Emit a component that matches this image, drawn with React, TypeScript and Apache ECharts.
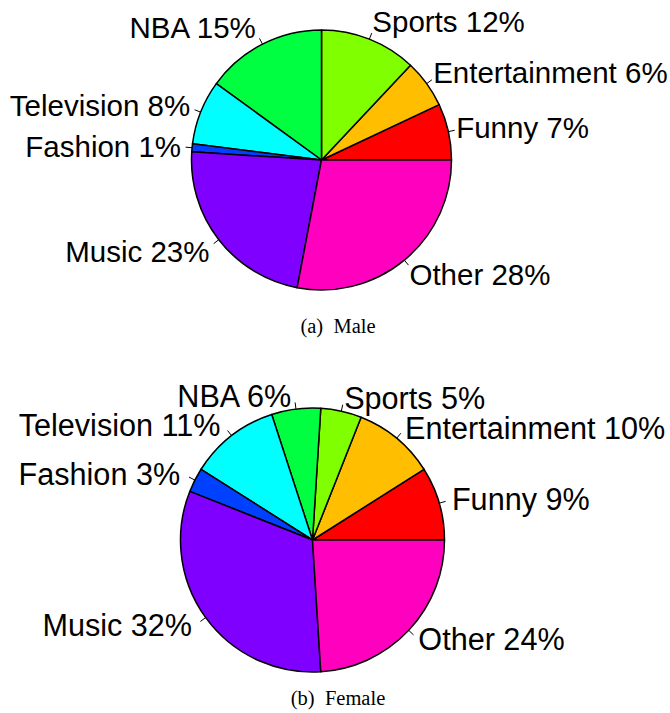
import React, { useEffect, useRef } from 'react';
import * as echarts from 'echarts';

const categories = ['Funny', 'Entertainment', 'Sports', 'NBA', 'Television', 'Fashion', 'Music', 'Other'];
const maleValues = [7, 6, 12, 15, 8, 1, 23, 28];
const femaleValues = [9, 10, 5, 6, 11, 3, 32, 24];
const sliceColors = ['#FF0000', '#FFBF00', '#80FF00', '#00FF40', '#00FFFF', '#0040FF', '#8000FF', '#FF00BF'];
const captions = ['(a)\u2002Male', '(b)\u2002Female'];

type PieGeom = { cx: number; cy: number; r: number; lx: number; ly: number; fontSize: number };

const maleGeom: PieGeom = { cx: 321.5, cy: 160, r: 130, lx: 138, ly: 148.5, fontSize: 29.5 };
const femaleGeom: PieGeom = { cx: 312.5, cy: 540, r: 132, lx: 145.2, ly: 145.2, fontSize: 30.6 };

function buildSeries(name: string, values: number[], g: PieGeom) {
  const total = values.reduce((a, b) => a + b, 0);
  let acc = 0;
  const tick = 0.05 * g.r;
  const shifts: { dx: number; dy: number }[] = [];
  const data = values.map((v, i) => {
    const mid = ((acc + v / 2) / total) * 2 * Math.PI;
    acc += v;
    const nx = Math.cos(mid);
    const ny = Math.sin(mid);
    const ex = g.cx + (g.r + tick) * nx;
    const ey = g.cy - (g.r + tick) * ny;
    const tx = g.cx + g.lx * nx + (nx < 0 ? -3 : 0);
    const ty = g.cy - g.ly * ny;
    shifts.push({ dx: tx - ex, dy: ty - ey });
    return {
      name: categories[i],
      value: v,
      itemStyle: { color: sliceColors[i] },
    };
  });
  return {
    type: 'pie',
    name,
    center: [g.cx, g.cy],
    radius: g.r,
    startAngle: 0,
    clockwise: false,
    avoidLabelOverlap: false,
    silent: true,
    data,
    itemStyle: { borderColor: '#000', borderWidth: 1.5 },
    label: {
      show: true,
      position: 'outside',
      formatter: (p: any) => `${p.name} ${p.value}%`,
      color: '#000',
      fontFamily: '"Liberation Sans", Arial, sans-serif',
      fontSize: g.fontSize,
      distanceToLabelLine: 0,
    },
    labelLine: {
      show: true,
      length: tick,
      length2: 0,
      smooth: false,
      lineStyle: { color: '#000', width: 1 },
    },
    labelLayout: (p: any) => ({
      dx: shifts[p.dataIndex].dx,
      dy: shifts[p.dataIndex].dy,
      hideOverlap: false,
    }),
    emphasis: { disabled: true },
  };
}

export default function App() {
  const ref = useRef<HTMLDivElement>(null);
  useEffect(() => {
    document.body.style.margin = '0';
    if (!ref.current) return;
    const chart = echarts.init(ref.current, undefined, { renderer: 'svg' });
    const captionFont = '20.5px "Liberation Serif", "Times New Roman", serif';
    chart.setOption({
      animation: false,
      backgroundColor: '#fff',
      series: [buildSeries('Male', maleValues, maleGeom), buildSeries('Female', femaleValues, femaleGeom)],
      graphic: [
        {
          type: 'text',
          x: 338,
          y: 326,
          style: { text: captions[0], fill: '#000', font: captionFont, textAlign: 'center', textVerticalAlign: 'middle' },
        },
        {
          type: 'text',
          x: 338,
          y: 698,
          style: { text: captions[1], fill: '#000', font: captionFont, textAlign: 'center', textVerticalAlign: 'middle' },
        },
      ],
    });
    return () => chart.dispose();
  }, []);
  return <div ref={ref} style={{ position: 'absolute', left: 0, top: 0, width: 670, height: 713 }} />;
}
